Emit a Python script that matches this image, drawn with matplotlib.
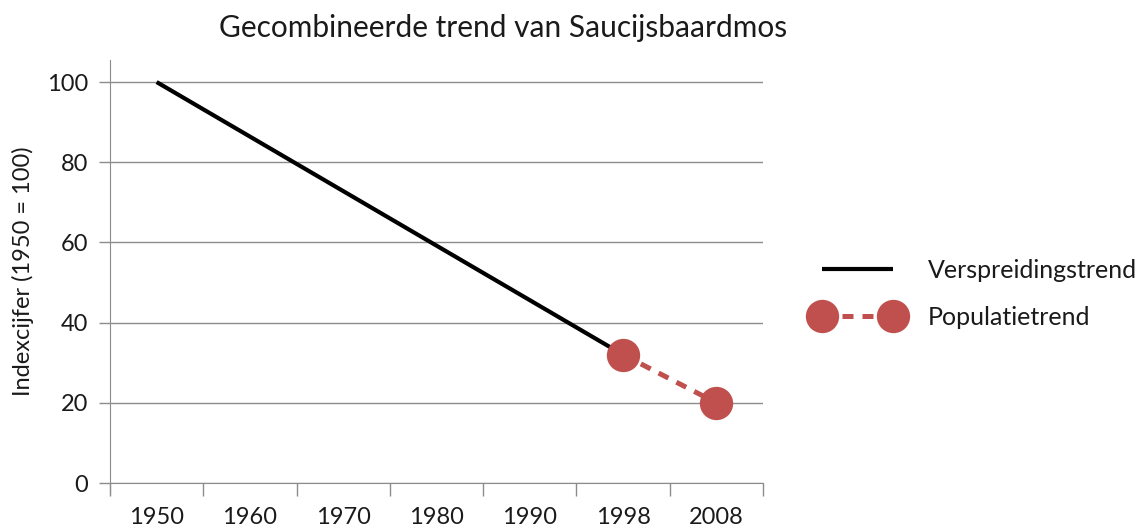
import numpy as np
import matplotlib
matplotlib.use("Agg")
import matplotlib.pyplot as plt

categories = ["1950", "1960", "1970", "1980", "1990", "1998", "2008"]
spread_values = [100, np.nan, np.nan, np.nan, np.nan, 32, np.nan]
population_values = [np.nan, np.nan, np.nan, np.nan, np.nan, 32, 20]
yticks = [0, 20, 40, 60, 80, 100]

title = "Gecombineerde trend van Saucijsbaardmos"
ylabel = "Indexcijfer (1950 = 100)"
spread_label = "Verspreidingstrend"
pop_label = "Populatietrend"

plt.rcParams['font.family'] = ['Lato', 'DejaVu Sans']
red = "#C0504D"
grid_c = "#8C8C8C"
txt_c = "#1A1A1A"
fs = 17

fig = plt.figure(figsize=(11.42, 5.29), dpi=100)
ax = fig.add_axes([110/1142, 1-483/529, (763-110)/1142, (483-60)/529])

x = np.arange(len(categories))
sv = np.array(spread_values, dtype=float)
m = ~np.isnan(sv)
ax.plot(x[m], sv[m], color="black", lw=3.0, solid_capstyle="butt",
        label=spread_label, zorder=3)
pv = np.array(population_values, dtype=float)
m2 = ~np.isnan(pv)
ax.plot(x[m2], pv[m2], color=red, lw=3.6, ls=(0, (2.2, 1.8)),
        marker="o", markersize=24, markeredgewidth=0, label=pop_label, zorder=4)

ax.set_xlim(-0.5, len(categories) - 0.5)
ax.set_ylim(0, 105.5)
ax.set_yticks(yticks)
ax.set_yticklabels([str(v) for v in yticks])
ax.yaxis.grid(True, color=grid_c, lw=1.0)
ax.set_axisbelow(True)

ax.set_xticks(x)
ax.set_xticklabels(categories)
ax.set_xticks(np.arange(len(categories) + 1) - 0.5, minor=True)
ax.tick_params(axis="x", which="major", length=0, pad=17.5, labelsize=fs, colors=txt_c)
ax.tick_params(axis="x", which="minor", length=9, width=1.0, color=grid_c)
ax.tick_params(axis="y", length=8, width=1.0, color=grid_c, pad=8, labelsize=fs, labelcolor=txt_c)

for s in ["top", "right"]:
    ax.spines[s].set_visible(False)
ax.spines["left"].set_color(grid_c)
ax.spines["bottom"].set_color(grid_c)
ax.spines["left"].set_bounds(-2.2, 105.5)

ax.set_ylabel(ylabel, fontsize=fs, color=txt_c, labelpad=9)
fig.text(503/1142, 1-28/529, title, ha="center", va="center", fontsize=21.5, color=txt_c)

leg = ax.legend(loc="center left", bbox_to_anchor=(792/1142, 1-294/529),
                bbox_transform=fig.transFigure, frameon=False, fontsize=18,
                handlelength=3.44, handletextpad=1.1, labelspacing=0.95, numpoints=2,
                markerscale=1.0)
for t in leg.get_texts():
    t.set_color(txt_c)

fig.savefig("out.png", dpi=100)
